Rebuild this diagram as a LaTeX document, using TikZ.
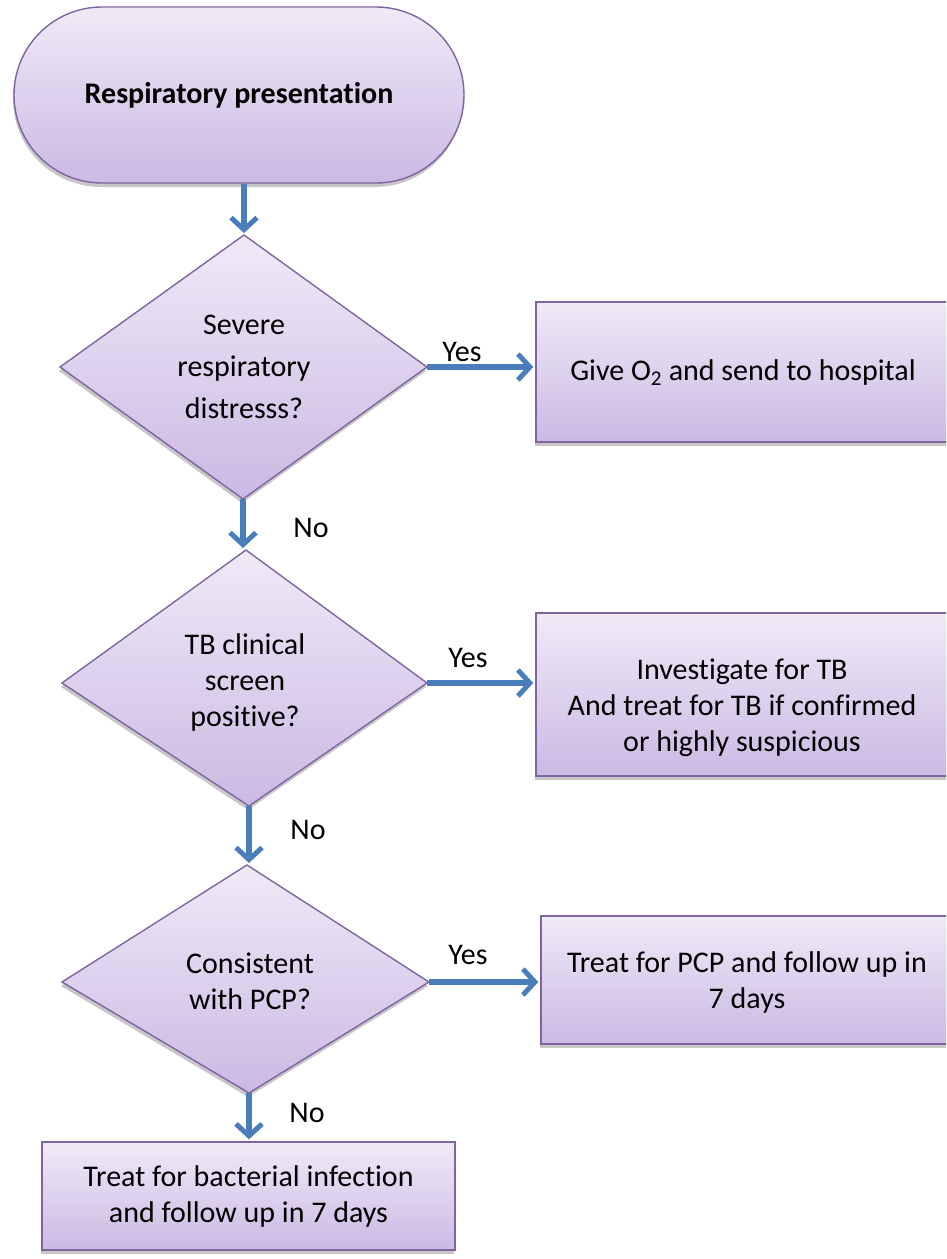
\documentclass[tikz,border=0pt]{standalone}
\usepackage{fontspec}
\setmainfont{Carlito}[Ligatures=NoCommon]
\usetikzlibrary{arrows.meta,shadows}

\definecolor{edgepurple}{HTML}{8064A2}
\definecolor{lavtop}{HTML}{EFEAF7}
\definecolor{lavbottom}{HTML}{CBB9E3}
\definecolor{flowblue}{HTML}{4A7EBB}

\tikzset{
  shapefill/.style={draw=edgepurple, line width=1.4pt,
    top color=lavtop, bottom color=lavbottom,
    drop shadow={shadow xshift=-1pt, shadow yshift=-4pt, fill=black!40, opacity=0.55}},
  boxnode/.style={shapefill, rectangle, inner sep=0pt, align=center,
    font=\fontsize{30}{36}\selectfont},
  txt/.style={font=\fontsize{30}{36}\selectfont, align=center, inner sep=0pt},
  flow/.style={draw=flowblue, line width=5.5pt, shorten >=2pt,
    -{Straight Barb[length=12pt,width=26pt,line width=5pt]}},
  lbl/.style={font=\fontsize{30}{36}\selectfont, inner sep=0pt},
}

\begin{document}
\begin{tikzpicture}[x=1pt, y=-1pt]
\useasboundingbox (0,0) rectangle (946,1259);
\clip (0,0) rectangle (946,1259);

% start terminal
\node[shapefill, rectangle, rounded corners=88pt, minimum width=450pt,
      minimum height=176pt, inner sep=0pt,
      font=\fontsize{30}{36}\selectfont\bfseries] (term) at (239,95)
      {Respiratory presentation};

% decision 1
\coordinate (d1t) at (244,235);
\coordinate (d1r) at (427,367);
\coordinate (d1b) at (243,499);
\coordinate (d1l) at (60,367);
\path[shapefill] (d1t) -- (d1r) -- (d1b) -- (d1l) -- cycle;
\node[txt, font=\fontsize{30}{42}\selectfont] (q1) at (244,367)
  {Severe\\respiratory\\distresss?};

% decision 2
\coordinate (d2t) at (246,550);
\coordinate (d2r) at (427,683);
\coordinate (d2b) at (249,806);
\coordinate (d2l) at (62,683);
\path[shapefill] (d2t) -- (d2r) -- (d2b) -- (d2l) -- cycle;
\node[txt] (q2) at (245,682) {TB clinical\\screen\\positive?};

% decision 3
\coordinate (d3t) at (247,865);
\coordinate (d3r) at (429,982);
\coordinate (d3b) at (249,1093);
\coordinate (d3l) at (62,982);
\path[shapefill] (d3t) -- (d3r) -- (d3b) -- (d3l) -- cycle;
\node[txt] (q3) at (250,981) {Consistent\\with PCP?};

% action boxes (their right sides run past the page edge)
\node[boxnode, minimum width=424pt, minimum height=140pt] (b1) at (748,372) {};
\node[txt] (b1text) at (743,373) {Give O\textsubscript{2} and send to hospital};
\node[boxnode, minimum width=424pt, minimum height=163pt] (b2) at (748,694.5) {};
\node[txt] (b2text) at (742,708)
  {Investigate for TB\\And treat for TB if confirmed\\or highly suspicious};
\node[boxnode, minimum width=419pt, minimum height=128pt] (b3) at (750.5,980) {};
\node[txt] (b3text) at (747,982) {Treat for PCP and follow up in\\7 days};
\node[boxnode, minimum width=413pt, minimum height=108pt] (b4) at (248.5,1196)
  {Treat for bacterial infection\\and follow up in 7 days};

% connectors
\draw[flow] (term.south -| d1t) -- (d1t);
\draw[flow] (d1b) -- (d1b |- d2t);
\draw[flow] (d2b) -- (d2b |- d3t);
\draw[flow] (d3b) -- (d3b |- b4.north);
\draw[flow] (d1r) -- (d1r -| b1.west);
\draw[flow] (d2r) -- (d2r -| b2.west);
\draw[flow] (d3r) -- (d3r -| b3.west);

% branch labels
\node[lbl] (y1) at (462,352) {Yes};
\node[lbl] (y2) at (468,658) {Yes};
\node[lbl] (y3) at (468,955) {Yes};
\node[lbl] (n1) at (311,528) {No};
\node[lbl] (n2) at (308,830) {No};
\node[lbl] (n3) at (307,1113) {No};
\end{tikzpicture}
\end{document}
